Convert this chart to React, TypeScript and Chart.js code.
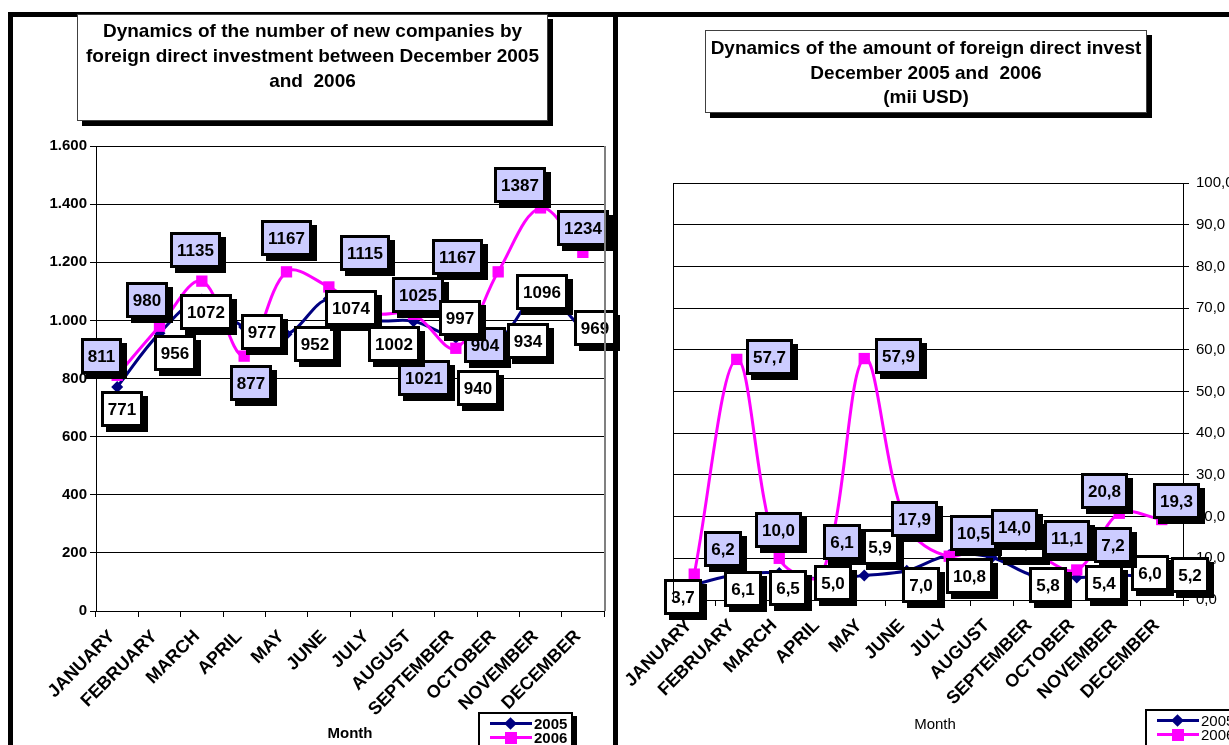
import React, { useEffect, useRef } from "react";
import { Chart, registerables } from "chart.js";

Chart.register(...registerables);

const MONTHS = ["JANUARY", "FEBRUARY", "MARCH", "APRIL", "MAY", "JUNE", "JULY", "AUGUST", "SEPTEMBER", "OCTOBER", "NOVEMBER", "DECEMBER"];
const SERIES_NAMES = ["2005", "2006"];

const COMPANIES_2005 = [771, 956, 1072, 977, 952, 1074, 1002, 997, 940, 934, 1096, 969];
const COMPANIES_2006 = [811, 980, 1135, 877, 1167, 1115, 1025, 1021, 904, 1167, 1387, 1234];
const COMPANY_TICK_MIN = 0;
const COMPANY_TICK_MAX = 1600;
const COMPANY_TICK_STEP = 200;

const FDI_2005 = [3.7, 6.1, 6.5, 5.0, 5.9, 7.0, 10.8, 10.2, 5.8, 5.4, 6.0, 5.2];
const FDI_2006 = [6.2, 57.7, 10.0, 6.1, 57.9, 17.9, 10.5, 14.0, 11.1, 7.2, 20.8, 19.3];
const FDI_TICK_MIN = 0;
const FDI_TICK_MAX = 100;
const FDI_TICK_STEP = 10;

const LEFT_TITLE = ["Dynamics of the number of new companies by", "foreign direct investment between December 2005", "and  2006"];
const RIGHT_TITLE = ["Dynamics of the amount of foreign direct invest", "December 2005 and  2006", "(mii USD)"];
const AXIS_TITLE = "Month";

// label box offsets (pixels from the data point) — layout only
const COMPANIES_2005_LABEL_OFFSETS = [[5, 22], [15, 20], [4, 13], [18, 5], [28, 10], [22, 9], [23, 24], [46, -3], [22, 50], [30, 1], [1, 0], [12, -1]];
const COMPANIES_2006_LABEL_OFFSETS = [[-16, -19], [-13, -26], [-6, -31], [7, 27], [0, -34], [36, -34], [47, -18], [10, 64], [29, -3], [-41, -15], [-21, -23], [0, -24]];
const FDI_2005_LABEL_OFFSETS = [[-11, 12], [6, 14], [9, 15], [11, 4], [16, -28], [14, 14], [20, 21], [30, -15], [14, 9], [27, 6], [31, -2], [28, -3]];
const FDI_2006_LABEL_OFFSETS = [[29, -25], [33, -2], [-1, -28], [20, -33], [34, -3], [8, -6], [24, -23], [23, -15], [33, -16], [36, -25], [-15, -22], [15, -19]];

const NAVY = "#000080";
const MAGENTA = "#FF00FF";
const LAVENDER = "#CCCCFF";
const FONT = '"Liberation Sans", Arial, Helvetica, sans-serif';

Chart.defaults.font.family = FONT;

const fmtThousands = (v: number) => {
  const s = String(Math.round(v));
  return s.replace(/\B(?=(\d{3})+(?!\d))/g, ".");
};
const fmtComma = (v: number) => v.toFixed(1).replace(".", ",");

function makeBoxLabels(cfg: {
  order: number[];
  offsets: number[][][];
  fills: string[];
  format: (v: number) => string;
}) {
  return {
    id: "boxLabels",
    afterDatasetsDraw(chart: any) {
      const ctx = chart.ctx;
      ctx.save();
      ctx.font = `bold 17px ${FONT}`;
      ctx.textAlign = "center";
      ctx.textBaseline = "middle";
      for (const di of cfg.order) {
        const meta = chart.getDatasetMeta(di);
        const ds = chart.data.datasets[di];
        meta.data.forEach((pt: any, i: number) => {
          const text = cfg.format(ds.data[i]);
          const w = Math.round(ctx.measureText(text).width + 14);
          const h = 36;
          const cx = pt.x + cfg.offsets[di][i][0];
          const cy = pt.y + cfg.offsets[di][i][1];
          const x = Math.round(cx - w / 2);
          const y = Math.round(cy - h / 2);
          ctx.fillStyle = "#000";
          ctx.fillRect(x + 5, y + 5, w, h);
          ctx.fillStyle = cfg.fills[di];
          ctx.fillRect(x, y, w, h);
          ctx.lineWidth = 3;
          ctx.strokeStyle = "#000";
          ctx.strokeRect(x + 1.5, y + 1.5, w - 3, h - 3);
          ctx.fillStyle = "#000";
          ctx.fillText(text, x + w / 2, y + h / 2 + 1);
        });
      }
      ctx.restore();
    },
  };
}

function makeFrame(side: "left" | "right") {
  return {
    id: "frame",
    afterDraw(chart: any) {
      const { ctx, chartArea } = chart;
      ctx.save();
      if (side === "left") {
        ctx.strokeStyle = "#808080";
        ctx.lineWidth = 2;
        ctx.beginPath();
        ctx.moveTo(chartArea.right + 1, chartArea.top);
        ctx.lineTo(chartArea.right + 1, chartArea.bottom);
        ctx.stroke();
      } else {
        ctx.strokeStyle = "#000";
        ctx.lineWidth = 1;
        ctx.beginPath();
        ctx.moveTo(chartArea.left + 0.5, chartArea.top);
        ctx.lineTo(chartArea.left + 0.5, chartArea.bottom);
        ctx.stroke();
      }
      ctx.restore();
    },
  };
}

function lineDataset(label: string, data: number[], color: string, style: string, radius: number, order: number) {
  return {
    label,
    data,
    borderColor: color,
    backgroundColor: color,
    borderWidth: 3,
    pointStyle: style,
    pointRadius: radius,
    pointBorderWidth: 0,
    pointBackgroundColor: color,
    tension: 0.35,
    order,
  };
}

const xTicks = { autoSkip: false, maxRotation: 45, minRotation: 45, color: "#000", padding: 9, labelOffset: -5, font: { size: 18, weight: "bold" } };

function LeftChart() {
  const ref = useRef<HTMLCanvasElement | null>(null);
  useEffect(() => {
    if (!ref.current) return;
    const chart = new Chart(ref.current, {
      type: "line",
      data: {
        labels: MONTHS,
        datasets: [
          lineDataset(SERIES_NAMES[0], COMPANIES_2005, NAVY, "rectRot", 6, 2) as any,
          lineDataset(SERIES_NAMES[1], COMPANIES_2006, MAGENTA, "rect", 8, 1) as any,
        ],
      },
      options: {
        animation: false,
        responsive: false,
        devicePixelRatio: 1,
        layout: { padding: { left: 36, right: 16, top: 146, bottom: 0 } },
        plugins: { legend: { display: false }, tooltip: { enabled: false }, title: { display: false } },
        scales: {
          x: {
            type: "category",
            offset: true,
            grid: { offset: true, drawOnChartArea: false, color: "#000", tickLength: 6, lineWidth: 1 },
            border: { color: "#000", width: 1 },
            ticks: xTicks,
            afterFit: (s: any) => { s.height = 134; },
          },
          y: {
            min: COMPANY_TICK_MIN,
            max: COMPANY_TICK_MAX,
            grid: { color: "#000", tickLength: 6, lineWidth: 1 },
            border: { color: "#000", width: 1 },
            ticks: { stepSize: COMPANY_TICK_STEP, color: "#000", padding: 3, font: { size: 15, weight: "bold" }, callback: (v: any) => fmtThousands(Number(v)) },
            afterFit: (s: any) => { s.width = 60; },
          },
        },
      } as any,
      plugins: [
        makeFrame("left"),
        makeBoxLabels({
          order: [1, 0],
          offsets: [COMPANIES_2005_LABEL_OFFSETS, COMPANIES_2006_LABEL_OFFSETS],
          fills: ["#FFFFFF", LAVENDER],
          format: (v) => String(v),
        }),
      ],
    });
    return () => chart.destroy();
  }, []);
  return <canvas ref={ref} width={620} height={745} style={{ position: "absolute", left: 0, top: 0, width: 620, height: 745 }} />;
}

function RightChart() {
  const ref = useRef<HTMLCanvasElement | null>(null);
  useEffect(() => {
    if (!ref.current) return;
    const chart = new Chart(ref.current, {
      type: "line",
      data: {
        labels: MONTHS,
        datasets: [
          lineDataset(SERIES_NAMES[0], FDI_2005, NAVY, "rectRot", 6, 2) as any,
          lineDataset(SERIES_NAMES[1], FDI_2006, MAGENTA, "rect", 8, 1) as any,
        ],
      },
      options: {
        animation: false,
        responsive: false,
        devicePixelRatio: 1,
        layout: { padding: { left: 58, right: 32, top: 183, bottom: 0 } },
        plugins: { legend: { display: false }, tooltip: { enabled: false }, title: { display: false } },
        scales: {
          x: {
            type: "category",
            offset: true,
            grid: { offset: true, drawOnChartArea: false, color: "#000", tickLength: 6, lineWidth: 1 },
            border: { color: "#000", width: 1 },
            ticks: xTicks,
            afterFit: (s: any) => { s.height = 145; },
          },
          y: {
            position: "right",
            min: FDI_TICK_MIN,
            max: FDI_TICK_MAX,
            grid: { color: "#000", tickLength: 6, lineWidth: 1 },
            border: { color: "#000", width: 1 },
            ticks: { stepSize: FDI_TICK_STEP, color: "#000", padding: 7, font: { size: 15, weight: "normal" }, callback: (v: any) => fmtComma(Number(v)) },
            afterFit: (s: any) => { s.width = 60; },
          },
        },
      } as any,
      plugins: [
        makeFrame("right"),
        makeBoxLabels({
          order: [0, 1],
          offsets: [FDI_2005_LABEL_OFFSETS, FDI_2006_LABEL_OFFSETS],
          fills: ["#FFFFFF", LAVENDER],
          format: fmtComma,
        }),
      ],
    });
    return () => chart.destroy();
  }, []);
  return <canvas ref={ref} width={660} height={745} style={{ position: "absolute", left: 615, top: 0, width: 660, height: 745 }} />;
}

function LegendRow({ color, marker, label, bold }: { color: string; marker: "diamond" | "square"; label: string; bold: boolean }) {
  return (
    <div style={{ display: "flex", alignItems: "center", height: 14 }}>
      <div style={{ position: "relative", width: 42, height: 14 }}>
        <div style={{ position: "absolute", left: 0, top: 5, width: 42, height: 3, background: color }} />
        {marker === "diamond" ? (
          <div style={{ position: "absolute", left: 16, top: 2, width: 9, height: 9, background: color, transform: "rotate(45deg)" }} />
        ) : (
          <div style={{ position: "absolute", left: 15, top: 1, width: 12, height: 12, background: color }} />
        )}
      </div>
      <span style={{ marginLeft: 2, fontSize: 15, fontWeight: bold ? "bold" : "normal", lineHeight: "14px" }}>{label}</span>
    </div>
  );
}

function Legend({ left, top, bold }: { left: number; top: number; bold: boolean }) {
  return (
    <div
      style={{
        position: "absolute",
        left,
        top,
        width: 95,
        height: 40,
        border: "2px solid #000",
        boxShadow: "4px 4px 0 #000",
        background: "#fff",
        boxSizing: "border-box",
        padding: "3px 0 0 10px",
        zIndex: 3,
      }}
    >
      <LegendRow color={NAVY} marker="diamond" label={SERIES_NAMES[0]} bold={bold} />
      <LegendRow color={MAGENTA} marker="square" label={SERIES_NAMES[1]} bold={bold} />
    </div>
  );
}

export default function App() {
  return (
    <div
      style={{
        position: "fixed",
        left: 0,
        top: 0,
        width: 1229,
        height: 745,
        overflow: "hidden",
        background: "#fff",
        fontFamily: FONT,
        color: "#000",
      }}
    >
      <LeftChart />
      <RightChart />

      {/* panel frames */}
      <div style={{ position: "absolute", left: 8, top: 12, width: 610, height: 780, border: "5px solid #000", boxSizing: "border-box", zIndex: 2 }} />
      <div style={{ position: "absolute", left: 613, top: 12, width: 620, height: 5, background: "#000", zIndex: 2 }} />

      {/* left title */}
      <div
        style={{
          position: "absolute",
          left: 77,
          top: 14,
          width: 471,
          height: 107,
          border: "1px solid #404040",
          boxShadow: "5px 5px 0 #000",
          background: "#fff",
          boxSizing: "border-box",
          textAlign: "center",
          fontWeight: "bold",
          fontSize: 19,
          lineHeight: "25px",
          paddingTop: 3,
          whiteSpace: "pre",
          overflow: "hidden",
          zIndex: 3,
        }}
      >
        {LEFT_TITLE.map((t, i) => (
          <div key={i}>{t}</div>
        ))}
      </div>

      {/* right title */}
      <div
        style={{
          position: "absolute",
          left: 705,
          top: 30,
          width: 442,
          height: 83,
          border: "1px solid #404040",
          boxShadow: "5px 5px 0 #000",
          background: "#fff",
          boxSizing: "border-box",
          textAlign: "center",
          fontWeight: "bold",
          fontSize: 19,
          lineHeight: "24.5px",
          paddingTop: 5,
          whiteSpace: "pre",
          overflow: "hidden",
          zIndex: 3,
        }}
      >
        {RIGHT_TITLE.map((t, i) => (
          <div key={i}>{t}</div>
        ))}
      </div>

      {/* axis titles */}
      <div style={{ position: "absolute", left: 300, top: 725, width: 100, textAlign: "center", fontSize: 15, fontWeight: "bold", lineHeight: "16px", zIndex: 3 }}>{AXIS_TITLE}</div>
      <div style={{ position: "absolute", left: 885, top: 716, width: 100, textAlign: "center", fontSize: 15, lineHeight: "16px", zIndex: 3 }}>{AXIS_TITLE}</div>

      <Legend left={478} top={712} bold={true} />
      <Legend left={1145} top={709} bold={false} />
    </div>
  );
}
